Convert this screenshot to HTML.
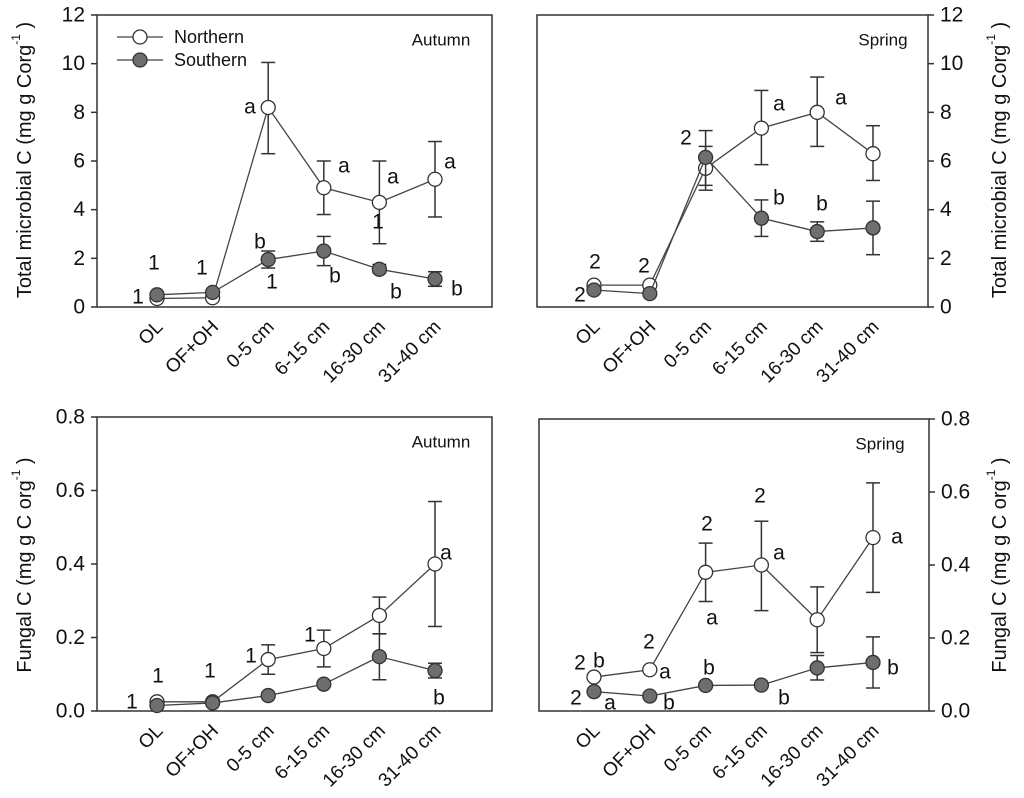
<!DOCTYPE html>
<html><head><meta charset="utf-8">
<style>
html,body{margin:0;padding:0;background:#fff;}
svg{display:block;font-family:"Liberation Sans",sans-serif;}
</style></head>
<body>
<svg id="fig" width="1024" height="798" viewBox="0 0 1024 798"></svg>
<script>
const categories = ["OL","OF+OH","0-5 cm","6-15 cm","16-30 cm","31-40 cm"];
// Total microbial C, Autumn
const tmAutNorth = [0.35,0.38,8.2,4.9,4.3,5.25];
const tmAutNorthLo = [null,null,6.3,3.8,2.6,3.7];
const tmAutNorthHi = [null,null,10.05,6.0,6.0,6.8];
const tmAutSouth = [0.5,0.6,1.95,2.3,1.55,1.15];
const tmAutSouthLo = [null,null,1.6,1.7,1.4,0.85];
const tmAutSouthHi = [null,null,2.3,2.9,1.75,1.45];
// Total microbial C, Spring
const tmSprNorth = [0.9,0.9,5.7,7.35,8.0,6.3];
const tmSprNorthLo = [null,null,4.8,5.85,6.6,5.2];
const tmSprNorthHi = [null,null,6.6,8.9,9.45,7.45];
const tmSprSouth = [0.7,0.55,6.15,3.65,3.1,3.25];
const tmSprSouthLo = [null,null,5.0,2.9,2.7,2.15];
const tmSprSouthHi = [null,null,7.25,4.4,3.5,4.35];
// Fungal C, Autumn
const fcAutNorth = [0.025,0.025,0.14,0.17,0.26,0.40];
const fcAutNorthLo = [null,null,0.10,0.12,0.21,0.23];
const fcAutNorthHi = [null,null,0.18,0.22,0.31,0.57];
const fcAutSouth = [0.015,0.022,0.042,0.073,0.148,0.11];
const fcAutSouthLo = [null,null,null,null,0.085,0.09];
const fcAutSouthHi = [null,null,null,null,0.21,0.13];
// Fungal C, Spring
const fcSprNorth = [0.093,0.113,0.38,0.40,0.25,0.475];
const fcSprNorthLo = [null,null,0.30,0.275,0.16,0.325];
const fcSprNorthHi = [null,null,0.46,0.52,0.34,0.625];
const fcSprSouth = [0.053,0.041,0.07,0.071,0.118,0.133];
const fcSprSouthLo = [null,null,null,null,0.085,0.063];
const fcSprSouthHi = [null,null,null,null,0.152,0.203];
const tmTicks = ["0","2","4","6","8","10","12"];
const fcTicks = ["0.0","0.2","0.4","0.6","0.8"];

const NS="http://www.w3.org/2000/svg";
const svg=document.getElementById('fig');
function mk(tag,attrs,parent,text){const e=document.createElementNS(NS,tag);for(const k in attrs)e.setAttribute(k,attrs[k]);if(text!==undefined)e.textContent=text;(parent||svg).appendChild(e);return e;}

function panel(cfg){
  const g=mk('g',{});
  
  
  const {L,R,T,B,ymax,ticks,side}=cfg;
  const x=i=>cfg.x0+i*cfg.dx;
  const y=v=>B-(v/ymax)*(B-T);
  const box=mk('rect',{x:L,y:T,width:R-L,height:B-T,fill:'none',stroke:'#333','stroke-width':1.5},g);
  
  
  ticks.forEach((t,i)=>{
    const v=parseFloat(t);const yy=y(v);
    if(side==='left'){
      mk('line',{x1:L-6,x2:L,y1:yy,y2:yy,stroke:'#333','stroke-width':1.5},g);
      const tl=mk('text',{x:L-12,y:yy,'text-anchor':'end','dominant-baseline':'central','font-size':21,fill:'#111'},g,t);
      
      
    }else{
      mk('line',{x1:R,x2:R+6,y1:yy,y2:yy,stroke:'#333','stroke-width':1.5},g);
      const tl=mk('text',{x:R+12,y:yy,'text-anchor':'start','dominant-baseline':'central','font-size':21,fill:'#111'},g,t);
      
      
    }
  });
  categories.forEach((c,i)=>{
    const xl=x(i)+3, yl=B+17;
    const tl=mk('text',{x:xl,y:yl,'text-anchor':'end','dominant-baseline':'central','font-size':19,fill:'#111',transform:`rotate(-45 ${xl} ${yl})`},g,c);
    
    
  });
  const tx=cfg.titleX, ty=cfg.titleY;
  const title=mk('text',{x:tx,y:ty,'text-anchor':'middle','dominant-baseline':'central','font-size':cfg.titleSize,fill:'#111',transform:`rotate(-90 ${tx} ${ty})`},g);
  
  
  mk('tspan',{},title,cfg.title);
  mk('tspan',{dy:-9,'font-size':12},title,'-1');
  mk('tspan',{dy:9},title,' )');
  const s=mk('text',{x:cfg.seasonX,y:T+25,'text-anchor':'middle','dominant-baseline':'central','font-size':17,fill:'#111'},g,cfg.season);
  
  
  function series(vals,lo,hi,fill,nm){
    const sg=mk('g',{},g);
    
    
    vals.forEach((v,i)=>{
      if(lo[i]!=null){
        mk('line',{x1:x(i),x2:x(i),y1:y(lo[i]),y2:y(hi[i]),stroke:'#333','stroke-width':1.5},sg);
        [lo[i],hi[i]].forEach(e=>mk('line',{x1:x(i)-7,x2:x(i)+7,y1:y(e),y2:y(e),stroke:'#333','stroke-width':1.5},sg));
      }
    });
    mk('polyline',{points:vals.map((v,i)=>x(i)+','+y(v)).join(' '),fill:'none',stroke:'#444','stroke-width':1.3},sg);
    vals.forEach((v,i)=>{
      const c=mk('circle',{cx:x(i),cy:y(v),r:7,fill:fill,stroke:'#333','stroke-width':1.3},sg);
      
      
    });
  }
  series(cfg.n,cfg.nlo,cfg.nhi,'#fff','northern-series');
  series(cfg.s,cfg.slo,cfg.shi,'#6e6e6e','southern-series');
  cfg.ann.forEach(a=>{
    const t=mk('text',{x:a[0],y:a[1],'text-anchor':'middle','dominant-baseline':'central','font-size':21,fill:'#111'},g,a[2]);
    
    
  });
  return g;
}

panel({name:'panel-total-autumn',L:97,R:492,T:15,B:307,ymax:12,ticks:tmTicks,side:'left',x0:157,dx:55.6,
  title:'Total microbial C (mg g Corg',titleSize:20,titleX:25,titleY:160,season:'Autumn',seasonX:441,
  n:tmAutNorth,nlo:tmAutNorthLo,nhi:tmAutNorthHi,s:tmAutSouth,slo:tmAutSouthLo,shi:tmAutSouthHi,
  ann:[[154,263,'1'],[138,297,'1'],[202,268,'1'],[250,107,'a'],[260,242,'b'],[272,282,'1'],[344,166,'a'],[335,276,'b'],[393,177,'a'],[378,222,'1'],[396,292,'b'],[450,162,'a'],[457,289,'b']]});
panel({name:'panel-total-spring',L:537,R:928,T:15,B:307,ymax:12,ticks:tmTicks,side:'right',x0:594,dx:55.8,
  title:'Total microbial C (mg g Corg',titleSize:20,titleX:1000,titleY:160,season:'Spring',seasonX:883,
  n:tmSprNorth,nlo:tmSprNorthLo,nhi:tmSprNorthHi,s:tmSprSouth,slo:tmSprSouthLo,shi:tmSprSouthHi,
  ann:[[595,262,'2'],[580,295,'2'],[644,266,'2'],[686,138,'2'],[779,104,'a'],[779,198,'b'],[841,98,'a'],[822,204,'b']]});
panel({name:'panel-fungal-autumn',L:97,R:492,T:417,B:711,ymax:0.8,ticks:fcTicks,side:'left',x0:157,dx:55.6,
  title:'Fungal C (mg  g C org',titleSize:20,titleX:25,titleY:565,season:'Autumn',seasonX:441,
  n:fcAutNorth,nlo:fcAutNorthLo,nhi:fcAutNorthHi,s:fcAutSouth,slo:fcAutSouthLo,shi:fcAutSouthHi,
  ann:[[158,676,'1'],[132,702,'1'],[210,671,'1'],[251,656,'1'],[310,635,'1'],[446,553,'a'],[439,698,'b']]});
panel({name:'panel-fungal-spring',L:539,R:929,T:419,B:711,ymax:0.8,ticks:fcTicks,side:'right',x0:594,dx:55.8,
  title:'Fungal C (mg  g C org',titleSize:20,titleX:1000,titleY:565,season:'Spring',seasonX:880,
  n:fcSprNorth,nlo:fcSprNorthLo,nhi:fcSprNorthHi,s:fcSprSouth,slo:fcSprSouthLo,shi:fcSprSouthHi,
  ann:[[580,663,'2'],[599,661,'b'],[576,698,'2'],[610,703,'a'],[649,642,'2'],[665,672,'a'],[669,703,'b'],[707,524,'2'],[709,668,'b'],[712,618,'a'],[760,496,'2'],[779,553,'a'],[784,698,'b'],[897,537,'a'],[893,668,'b']]});

const lg=mk('g',{});


[['Northern','#fff',37],['Southern','#6e6e6e',60]].forEach(d=>{
  const e=mk('g',{},lg);
  
  
  mk('line',{x1:117,x2:163,y1:d[2],y2:d[2],stroke:'#444','stroke-width':1.3},e);
  mk('circle',{cx:140,cy:d[2],r:7,fill:d[1],stroke:'#333','stroke-width':1.3},e);
  mk('text',{x:174,y:d[2],'dominant-baseline':'central','font-size':18,fill:'#111'},e,d[0]);
});
</script>
</body></html>
